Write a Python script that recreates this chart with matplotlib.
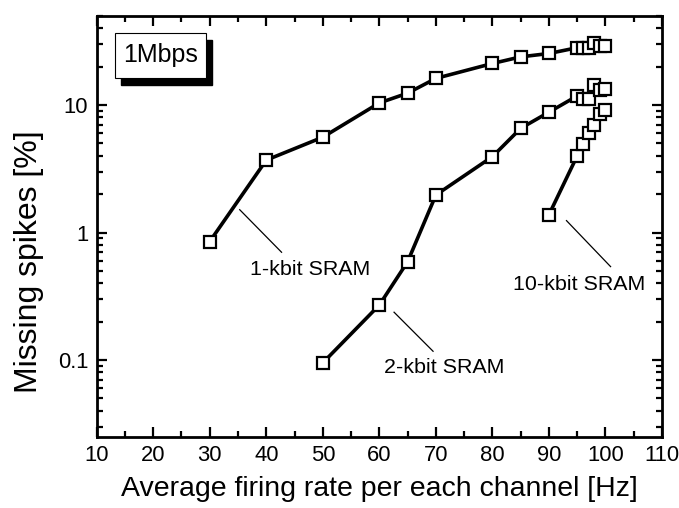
import numpy as np
import matplotlib.pyplot as plt
from matplotlib.ticker import LogLocator, FixedLocator, NullFormatter, FixedFormatter
from matplotlib.patches import Rectangle

plt.rcParams['font.family'] = ['Liberation Sans', 'DejaVu Sans']

# firing rate [Hz] and missing spikes [%]
rate_1k = [30, 40, 50, 60, 65, 70, 80, 85, 90, 95, 96, 97, 98, 99, 100]
miss_1k = [0.85, 3.7, 5.6, 10.4, 12.4, 16.2, 21.2, 23.9, 25.4, 28.2, 28.2, 28.2, 30.5, 29.3, 29.3]

rate_2k = [50, 60, 65, 70, 80, 85, 90, 95, 96, 97, 98, 99, 100]
miss_2k = [0.095, 0.27, 0.59, 1.97, 3.94, 6.57, 8.8, 11.8, 11.1, 11.1, 14.3, 13.1, 13.3]

rate_10k = [90, 95, 96, 97, 98, 99, 100]
miss_10k = [1.38, 4.0, 4.95, 6.0, 7.0, 8.5, 9.14]

fig = plt.figure(figsize=(6.79, 5.08), dpi=100)
ax = fig.add_axes([0.1424, 0.1404, 0.9750 - 0.1424, 0.9685 - 0.1404])

style = dict(color='black', lw=2.6, marker='s', ms=8, mfc='white', mec='black', mew=1.6)
for r, m in [(rate_1k, miss_1k), (rate_2k, miss_2k), (rate_10k, miss_10k)]:
    ax.plot(r, m, **style)

ax.set_yscale('log')
ax.set_xlim(10, 110)
ax.set_ylim(0.025, 50)

ax.xaxis.set_major_locator(FixedLocator(np.arange(10, 111, 10)))
ax.xaxis.set_minor_locator(FixedLocator(np.arange(15, 110, 10)))
ax.yaxis.set_major_locator(FixedLocator([0.1, 1, 10]))
ax.yaxis.set_major_formatter(FixedFormatter(['0.1', '1', '10']))
ax.yaxis.set_minor_locator(LogLocator(base=10, subs=np.arange(2, 10)))
ax.yaxis.set_minor_formatter(NullFormatter())

ax.tick_params(which='both', direction='in', top=True, right=True, width=1.6, labelsize=15.8, pad=6)
ax.tick_params(which='major', length=7)
ax.tick_params(which='minor', length=4)
for s in ax.spines.values():
    s.set_linewidth(2)

ax.set_xlabel('Average firing rate per each channel [Hz]', fontsize=20.5, labelpad=7)
ax.set_ylabel('Missing spikes [%]', fontsize=23)
ax.yaxis.set_label_coords(-0.093, 0.415)

# leader lines and labels
ax.plot([35.3, 42.7], [1.51, 0.70], color='black', lw=0.9)
ax.text(47.7, 0.51, '1-kbit SRAM', fontsize=15.4, ha='center', va='center')
ax.plot([62.6, 69.5], [0.237, 0.117], color='black', lw=0.9)
ax.text(71.4, 0.088, '2-kbit SRAM', fontsize=15.4, ha='center', va='center')
ax.plot([93.1, 100.9], [1.24, 0.54], color='black', lw=0.9)
ax.text(95.3, 0.39, '10-kbit SRAM', fontsize=15.4, ha='center', va='center')

# "1Mbps" box with drop shadow
bx0, by0, bw, bh = 115 / 679, 1 - 78 / 508, 91 / 679, 45 / 508
fig.patches.append(Rectangle((bx0 + 6 / 679, by0 - 7 / 508), bw, bh, transform=fig.transFigure,
                             facecolor='black', edgecolor='black', zorder=5))
fig.patches.append(Rectangle((bx0, by0), bw, bh, transform=fig.transFigure,
                             facecolor='white', edgecolor='black', lw=0.8, zorder=6))
fig.text(bx0 + bw / 2, by0 + bh / 2, '1Mbps', fontsize=18, ha='center', va='center', zorder=7)

fig.savefig('out.png', dpi=100)
